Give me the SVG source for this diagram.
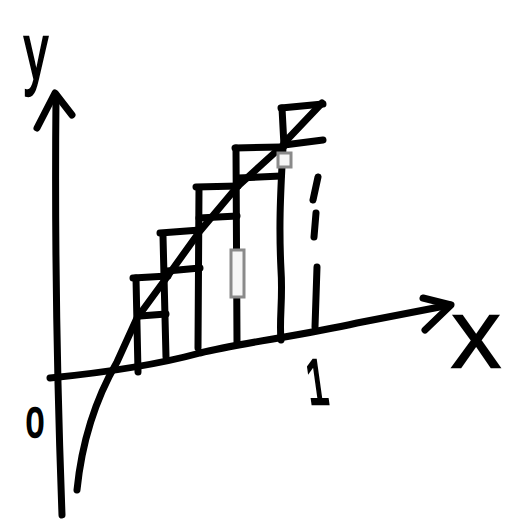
<svg xmlns="http://www.w3.org/2000/svg" width="510" height="520" viewBox="0 0 510 520">
<style>
.s{fill:none;stroke:#000;stroke-width:7;stroke-linecap:round;stroke-linejoin:round}
.t{font-family:"Liberation Sans",Arial,sans-serif;fill:#000;stroke:#000;stroke-width:2.5}
.art{fill:#f6f6f6;stroke:#8a8a8a;stroke-width:3}
</style>
<rect width="510" height="520" fill="#fff"/>
<g id="axes">
<path class="s" d="M56,97 Q54,300 62,515"/>
<path class="s" d="M37,128 L55,93 L72,115"/>
<path class="s" d="M50,378 C100,373 160,364 200,353 C240,343 300,336 357,323 L450,305"/>
<path class="s" d="M423,298 L451,305 L425,330"/>
</g>
<g id="curve">
<path class="s" d="M77,490 C82,440 95,400 117,362 L137,318 L167,277 L200,231 L237,187 L281,147"/>
<path class="s" d="M284,143 L322,103"/>
</g>
<g id="steps">
<path class="s" d="M136,278 L138,372"/>
<path class="s" d="M133,278 L168,276"/>
<path class="s" d="M140,316 L166,314"/>
<path class="s" d="M163,236 L166,357"/>
<path class="s" d="M160,233 L200,230"/>
<path class="s" d="M167,271 L200,268"/>
<path class="s" d="M199,188 L198,348"/>
<path class="s" d="M196,187 L238,186"/>
<path class="s" d="M199,218 L237,216"/>
<path class="s" d="M236,148 L237,342"/>
<path class="s" d="M235,148 L281,147"/>
<path class="s" d="M238,178 L281,176"/>
<path class="s" d="M283,148 C280,200 279,230 281,270 C283,300 279,320 281,340"/>
<path class="s" d="M281,108 L323,104"/>
<path class="s" d="M282,108 L284,146"/>
<path class="s" d="M284,145 L323,140"/>
<path class="s" d="M318,177 L313,200 M316,213 L314,237 M317,267 L315,327"/>
<rect class="art" x="231" y="250" width="13" height="47"/>
<rect class="art" x="278" y="153" width="13" height="14"/>
</g>
<g id="labels">
<text class="t" x="0" y="0" font-size="80" stroke-width="4" transform="translate(24,79) scale(0.6,1)">y</text>
<text class="t" x="0" y="0" font-size="42" text-anchor="middle" transform="translate(35,437) scale(0.75,1)">0</text>
<text class="t" x="476" y="367" font-size="74" text-anchor="middle">X</text>
<text class="t" x="0" y="0" font-size="64" text-anchor="middle" transform="translate(320,404) skewX(8) scale(0.6,1)">1</text>
</g>
</svg>
